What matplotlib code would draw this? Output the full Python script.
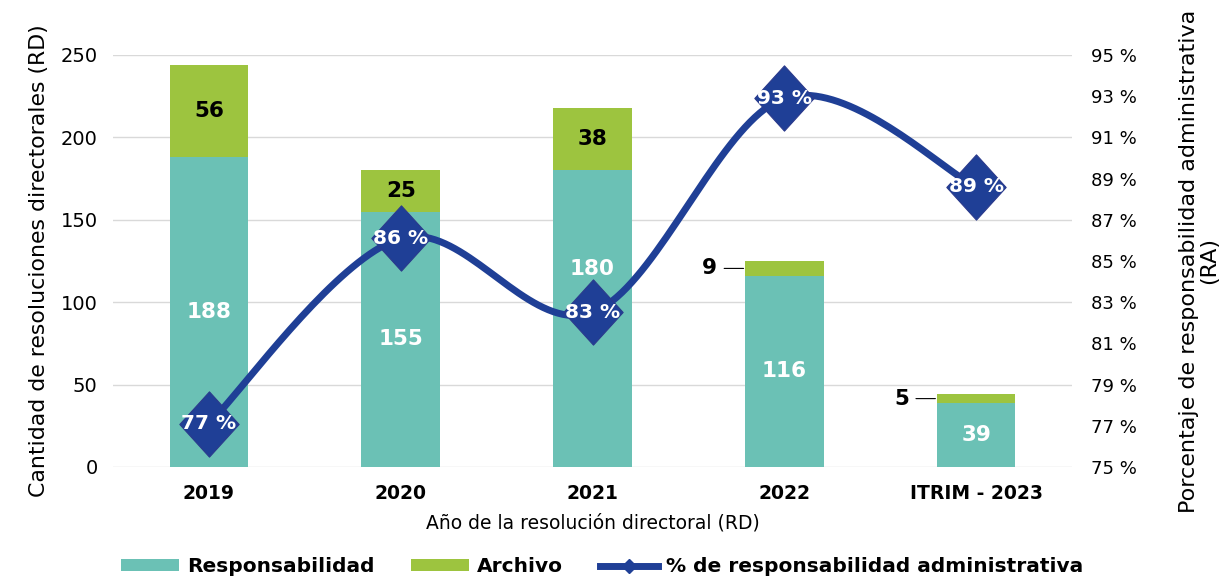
import numpy as np
import matplotlib
matplotlib.use("Agg")
import matplotlib.pyplot as plt
from matplotlib.path import Path
from matplotlib.lines import Line2D
from matplotlib.patches import Patch

categories = ["2019", "2020", "2021", "2022", "ITRIM - 2023"]
responsabilidad = [188, 155, 180, 116, 39]
archivo = [56, 25, 38, 9, 5]
pct = [77.1, 86.1, 82.5, 92.9, 88.6]
pct_labels = ["77 %", "86 %", "83 %", "93 %", "89 %"]
left_ticks = [0, 50, 100, 150, 200, 250]
right_ticks = [75, 77, 79, 81, 83, 85, 87, 89, 91, 93, 95]

TEAL = "#6BC1B5"
GREEN = "#9DC43F"
NAVY = "#1F3F96"
FONT = "DejaVu Sans"
NUMFONT = "DejaVu Sans"

fig = plt.figure(figsize=(12.25, 5.77), dpi=100)
ax = fig.add_axes([113/1225, 1-467/577, (1072-113)/1225, (467-55)/577])
ax2 = ax.twinx()

x = np.arange(len(categories))
w = 0.41
ax.bar(x, responsabilidad, w, color=TEAL, zorder=2)
ax.bar(x, archivo, w, bottom=responsabilidad, color=GREEN, zorder=2)

ax.set_xlim(-0.5, len(categories) - 0.5)
ax.set_ylim(0, 250)
ax.set_yticks(left_ticks)
ax.yaxis.grid(True, color="#D9D9D9", linewidth=1)
ax.set_axisbelow(True)
for s in ax.spines.values():
    s.set_visible(False)
for s in ax2.spines.values():
    s.set_visible(False)
ax.tick_params(axis="both", length=0)
ax2.tick_params(axis="both", length=0)
ax.tick_params(axis="y", pad=11, labelsize=14)
ax.tick_params(axis="x", pad=12)
ax.set_xticks(x)
ax.set_xticklabels(categories, fontsize=13.5, fontweight="bold", fontfamily=FONT)
for t in ax.get_yticklabels():
    t.set_fontfamily(FONT)

ax.set_ylabel("Cantidad de resoluciones directorales (RD)", fontsize=15.8,
              fontfamily=FONT, labelpad=8)
ax.set_xlabel("Año de la resolución directoral (RD)", fontsize=13.5,
              fontfamily=FONT, labelpad=8)

ax2.set_ylim(75, 95)
ax2.set_yticks(right_ticks)
ax2.set_yticklabels([f"{v} %" for v in right_ticks], fontsize=13, fontfamily=FONT)
ax2.tick_params(axis="y", pad=14)
ax2.set_ylabel("Porcentaje de responsabilidad administrativa\n(RA)", fontsize=16,
               fontfamily=FONT, labelpad=30, linespacing=1.0)

# bar labels
resp_label_y = [94, 77.5, 120, 58, 19.5]
for i, (r, a) in enumerate(zip(responsabilidad, archivo)):
    ax.text(i, resp_label_y[i], str(r), ha="center", va="center", color="white",
            fontsize=15.5, fontweight="bold", fontfamily=NUMFONT, zorder=3)
    if a >= 20:
        ax.text(i, r + a / 2, str(a), ha="center", va="center", color="black",
                fontsize=15.5, fontweight="bold", fontfamily=NUMFONT, zorder=3)
    else:
        ax.annotate(str(a), xy=(i - w / 2, r + a / 2), xytext=(-20, 0),
                    textcoords="offset points", ha="right", va="center",
                    fontsize=15.5, fontweight="bold", fontfamily=NUMFONT,
                    arrowprops=dict(arrowstyle="-", color="black", lw=0.8,
                                    shrinkA=3, shrinkB=1))

# smoothed line (Catmull-Rom, like Excel smoothing)
px = np.asarray(x, dtype=float)
py = np.asarray(pct, dtype=float)
P = np.column_stack([px, py])
Pe = np.vstack([P[0], P, P[-1]])
seg = []
t = np.linspace(0, 1, 40)[:, None]
for k in range(1, len(Pe) - 2):
    p0, p1, p2, p3 = Pe[k - 1], Pe[k], Pe[k + 1], Pe[k + 2]
    c = 0.5 * ((2 * p1) + (-p0 + p2) * t + (2 * p0 - 5 * p1 + 4 * p2 - p3) * t ** 2
               + (-p0 + 3 * p1 - 3 * p2 + p3) * t ** 3)
    seg.append(c)
curve = np.vstack(seg)
ax2.plot(curve[:, 0], curve[:, 1], color=NAVY, lw=5, solid_capstyle="round", zorder=4)

diamond = Path([(0, 1.1), (1, 0), (0, -1.1), (-1, 0), (0, 1.1)],
               [Path.MOVETO, Path.LINETO, Path.LINETO, Path.LINETO, Path.CLOSEPOLY])
ax2.plot(px, py, linestyle="none", marker=diamond, markersize=47,
         markerfacecolor=NAVY, markeredgecolor="#2B3A8C", markeredgewidth=0.8, zorder=5)
for xi, yi, lab in zip(px, py, pct_labels):
    ax2.text(xi, yi, lab, ha="center", va="center", color="white", fontsize=14.5,
             fontweight="bold", fontfamily=NUMFONT, zorder=6)

handles = [Patch(facecolor=TEAL, edgecolor="none"),
           Patch(facecolor=GREEN, edgecolor="none"),
           Line2D([0], [0], color=NAVY, lw=5, marker="D", markersize=7,
                  markerfacecolor=NAVY, markeredgecolor=NAVY)]
labels = ["Responsabilidad", "Archivo", "% de responsabilidad administrativa"]
leg = fig.legend(handles, labels, loc="center", ncol=3,
                 bbox_to_anchor=(602/1225, 1 - 567/577), frameon=False,
                 prop={"family": FONT, "weight": "bold", "size": 14.5},
                 handlelength=2.9, handleheight=0.55, handletextpad=0.4,
                 columnspacing=1.8, borderaxespad=0, borderpad=0)

fig.savefig("out.png", dpi=100)
